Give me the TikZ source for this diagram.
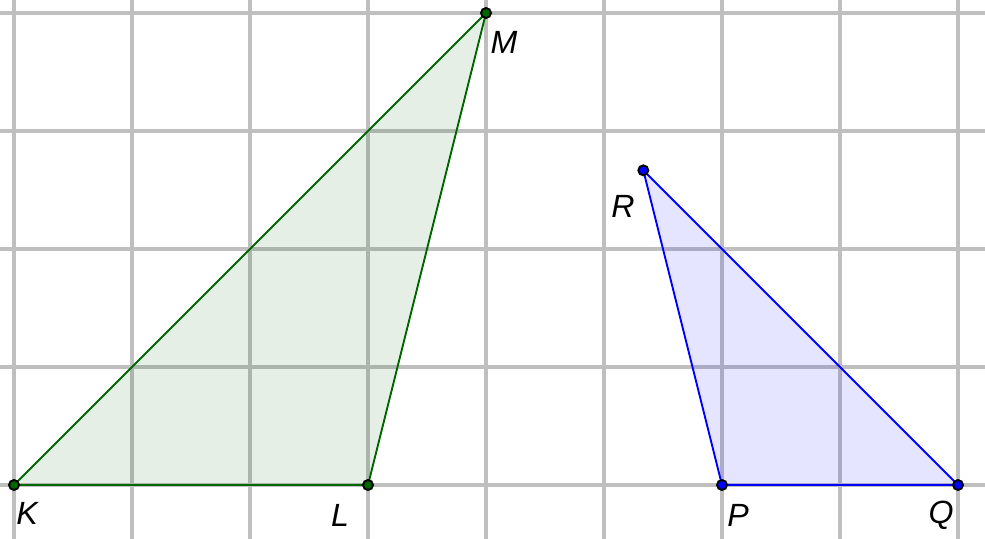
\documentclass[tikz,border=0pt]{standalone}
\usepackage{fontspec}
\setmainfont{Liberation Sans}
\begin{document}
\begin{tikzpicture}[x=1cm,y=1cm,
  gridline/.style={draw=black!25, line width=0.85pt},
  greentri/.style={draw=green!40!black, line width=0.45pt, fill=green!40!black, fill opacity=0.1},
  bluetri/.style={draw=blue, line width=0.45pt, fill=blue, fill opacity=0.1},
  gpt/.style={circle, draw=black, line width=0.45pt, fill=green!40!black, inner sep=0pt, minimum size=0.085cm},
  bpt/.style={circle, draw=black, line width=0.45pt, fill=blue, inner sep=0pt, minimum size=0.085cm},
  lab/.style={font=\fontsize{7.75}{9}\selectfont\itshape, inner sep=0pt}]
\useasboundingbox (-0.1186,-0.4576) rectangle (8.2288,4.1102);
\foreach \i in {0,...,8} \draw[gridline] (\i,-0.4576) -- (\i,4.1102);
\foreach \j in {0,...,4} \draw[gridline] (-0.1186,\j) -- (8.2288,\j);
\coordinate (k) at (0,0);
\coordinate (l) at (3,0);
\coordinate (m) at (4,4);
\coordinate (r) at (5.3333,2.6667);
\coordinate (p) at (6,0);
\coordinate (q) at (8,0);
\path[greentri] (k) -- (l) -- (m) -- cycle;
\path[bluetri] (p) -- (q) -- (r) -- cycle;
\node[gpt] (K) at (k) {};
\node[gpt] (L) at (l) {};
\node[gpt] (M) at (m) {};
\node[bpt] (R) at (r) {};
\node[bpt] (P) at (p) {};
\node[bpt] (Q) at (q) {};
\node[lab] (KL) at (0.110,-0.237) {K};
\node[lab] (LL) at (2.763,-0.254) {L};
\node[lab] (ML) at (4.153,3.754) {M};
\node[lab] (RL) at (5.161,2.364) {R};
\node[lab] (PL) at (6.136,-0.254) {P};
\node[lab] (QL) at (7.856,-0.254) {Q};
\end{tikzpicture}
\end{document}
